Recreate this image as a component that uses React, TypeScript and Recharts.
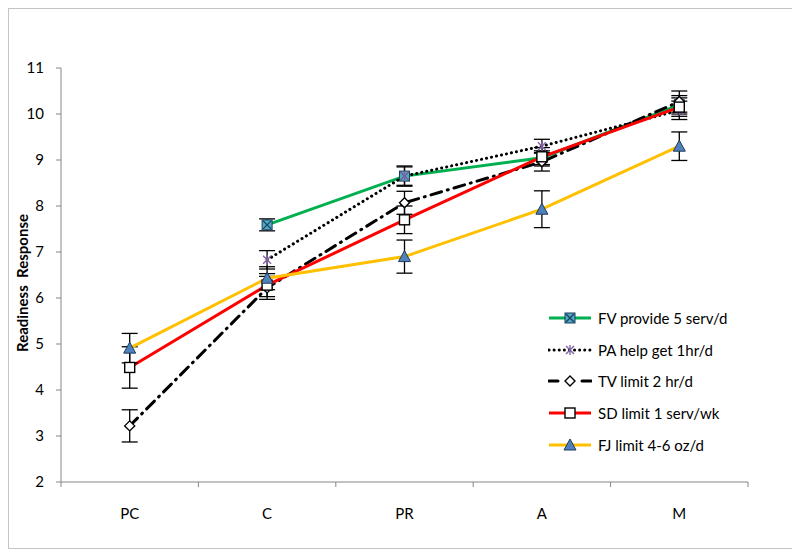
import { LineChart, Line, XAxis, YAxis, ErrorBar } from "recharts";

const categories = ["PC", "C", "PR", "A", "M"];

const fvValues = [null, 7.59, 8.65, 9.05, 10.2];
const fvErrors = [null, 0.13, 0.22, 0.15, 0.2];
const paValues = [null, 6.83, 8.65, 9.3, 10.08];
const paErrors = [null, 0.2, 0.2, 0.15, 0.2];
const tvValues = [3.22, 6.22, 8.07, 8.96, 10.27];
const tvErrors = [0.35, 0.25, 0.25, 0.2, 0.23];
const sdValues = [4.49, 6.28, 7.7, 9.07, 10.15];
const sdErrors = [0.45, 0.25, 0.3, 0.2, 0.2];
const fjValues = [4.91, 6.43, 6.9, 7.93, 9.3];
const fjErrors = [0.32, 0.25, 0.36, 0.4, 0.31];

const yTicks = [2, 3, 4, 5, 6, 7, 8, 9, 10, 11];
const bandEdges = [0, 1, 2, 3, 4, 5];

const FONT = "Lato, 'Open Sans', sans-serif";
const AXIS = "#868686";

const data = categories.map((name, i) => ({
  x: i + 0.5,
  name,
  fv: fvValues[i],
  fvErr: fvErrors[i],
  pa: paValues[i],
  paErr: paErrors[i],
  tv: tvValues[i],
  tvErr: tvErrors[i],
  sd: sdValues[i],
  sdErr: sdErrors[i],
  fj: fjValues[i],
  fjErr: fjErrors[i],
}));

// marker shapes, drawn around (cx, cy)
function Marker({ kind, cx, cy }: { kind: string; cx: number; cy: number }) {
  if (kind === "fv") {
    return (
      <g>
        <rect x={cx - 5} y={cy - 5} width={10} height={10} fill="#4BACC6" stroke="#1F3A5A" strokeWidth={1} />
        <path d={`M${cx - 4} ${cy - 4} L${cx + 4} ${cy + 4} M${cx + 4} ${cy - 4} L${cx - 4} ${cy + 4}`} stroke="#1F3A5A" strokeWidth={1.2} />
      </g>
    );
  }
  if (kind === "pa") {
    return (
      <path
        d={`M${cx - 4} ${cy - 4} L${cx + 4} ${cy + 4} M${cx + 4} ${cy - 4} L${cx - 4} ${cy + 4} M${cx} ${cy - 5} L${cx} ${cy + 5}`}
        stroke="#8064A2"
        strokeWidth={1.4}
      />
    );
  }
  if (kind === "tv") {
    return (
      <path d={`M${cx} ${cy - 5} L${cx + 5} ${cy} L${cx} ${cy + 5} L${cx - 5} ${cy} Z`} fill="#fff" stroke="#000" strokeWidth={1.4} />
    );
  }
  if (kind === "sd") {
    return <rect x={cx - 5} y={cy - 5} width={10} height={10} fill="#fff" stroke="#000" strokeWidth={1.4} />;
  }
  return (
    <path d={`M${cx} ${cy - 6} L${cx + 6} ${cy + 5} L${cx - 6} ${cy + 5} Z`} fill="#4F81BD" stroke="#1F3A5A" strokeWidth={1} />
  );
}

const makeDot = (kind: string) => (p: any) => {
  if (p.cx == null || p.cy == null || p.value == null) return <g key={`${kind}-${p.index}`} />;
  return (
    <g key={`${kind}-${p.index}`}>
      <Marker kind={kind} cx={p.cx} cy={p.cy} />
    </g>
  );
};

const series = [
  { key: "fv", label: "FV provide 5 serv/d", color: "#00B050", dash: undefined, cap: "butt" },
  { key: "pa", label: "PA help get 1hr/d", color: "#000000", dash: "0.1 5", cap: "round" },
  { key: "tv", label: "TV limit 2 hr/d", color: "#000000", dash: "11 6 1 6", cap: "round" },
  { key: "sd", label: "SD limit 1 serv/wk", color: "#FF0000", dash: undefined, cap: "butt" },
  { key: "fj", label: "FJ limit 4-6 oz/d", color: "#FFC000", dash: undefined, cap: "butt" },
];

function LegendBox() {
  return (
    <div style={{ position: "absolute", left: 539, top: 293, fontFamily: FONT, fontSize: 15, color: "#000" }}>
      {series.map((s) => (
        <div key={s.key} style={{ display: "flex", alignItems: "center", height: 31.7 }}>
          <svg width={44} height={14}>
            <line
              x1={1}
              y1={7}
              x2={43}
              y2={7}
              stroke={s.color}
              strokeWidth={3}
              strokeDasharray={s.key === "pa" ? "0.1 5" : s.key === "tv" ? "9 24" : undefined}
              strokeLinecap={s.cap as any}
            />
            <Marker kind={s.key} cx={22} cy={7} />
          </svg>
          <span style={{ marginLeft: 6, whiteSpace: "nowrap" }}>{s.label}</span>
        </div>
      ))}
    </div>
  );
}

export default function App() {
  return (
    <div style={{ position: "relative", width: 784, height: 539, border: "1px solid #c4c4c4", background: "#fff" }}>
      <LineChart width={784} height={539} data={data} margin={{ top: 59, right: 45, left: 0, bottom: 20 }}>
        <XAxis
          dataKey="x"
          type="number"
          domain={[0, 5]}
          ticks={bandEdges}
          allowDataOverflow
          height={6}
          tickSize={5}
          tick={() => <g />}
          axisLine={{ stroke: AXIS }}
          tickLine={{ stroke: AXIS }}
        />
        <XAxis
          xAxisId="lab"
          dataKey="x"
          type="number"
          domain={[0, 5]}
          ticks={[0.5, 1.5, 2.5, 3.5, 4.5]}
          allowDataOverflow
          height={40}
          tickSize={0}
          tickMargin={20}
          axisLine={false}
          tickLine={false}
          tickFormatter={(v: number) => categories[Math.floor(v)]}
          tick={{ fill: "#000", fontSize: 15, fontFamily: FONT }}
        />
        <YAxis
          domain={[2, 11]}
          ticks={yTicks}
          width={52}
          tickSize={5}
          tickMargin={12}
          axisLine={{ stroke: AXIS }}
          tickLine={{ stroke: AXIS }}
          tick={{ fill: "#000", fontSize: 15, fontFamily: FONT }}
        />
        {series.map((s) => (
          <Line
            key={s.key}
            dataKey={s.key}
            type="linear"
            stroke={s.color}
            strokeWidth={3}
            strokeDasharray={s.dash}
            strokeLinecap={s.cap as any}
            dot={makeDot(s.key)}
            activeDot={false}
            connectNulls={false}
            isAnimationActive={false}
          >
            <ErrorBar dataKey={`${s.key}Err`} direction="y" width={8} stroke="#000" strokeWidth={1.3} />
          </Line>
        ))}
      </LineChart>
      <div
        style={{
          position: "absolute",
          left: 13,
          top: 274,
          transform: "translate(-50%, -50%) rotate(-90deg)",
          fontFamily: FONT,
          fontWeight: "bold",
          fontSize: 15,
          whiteSpace: "pre",
          color: "#000",
        }}
      >
        Readiness  Response
      </div>
      <LegendBox />
    </div>
  );
}
